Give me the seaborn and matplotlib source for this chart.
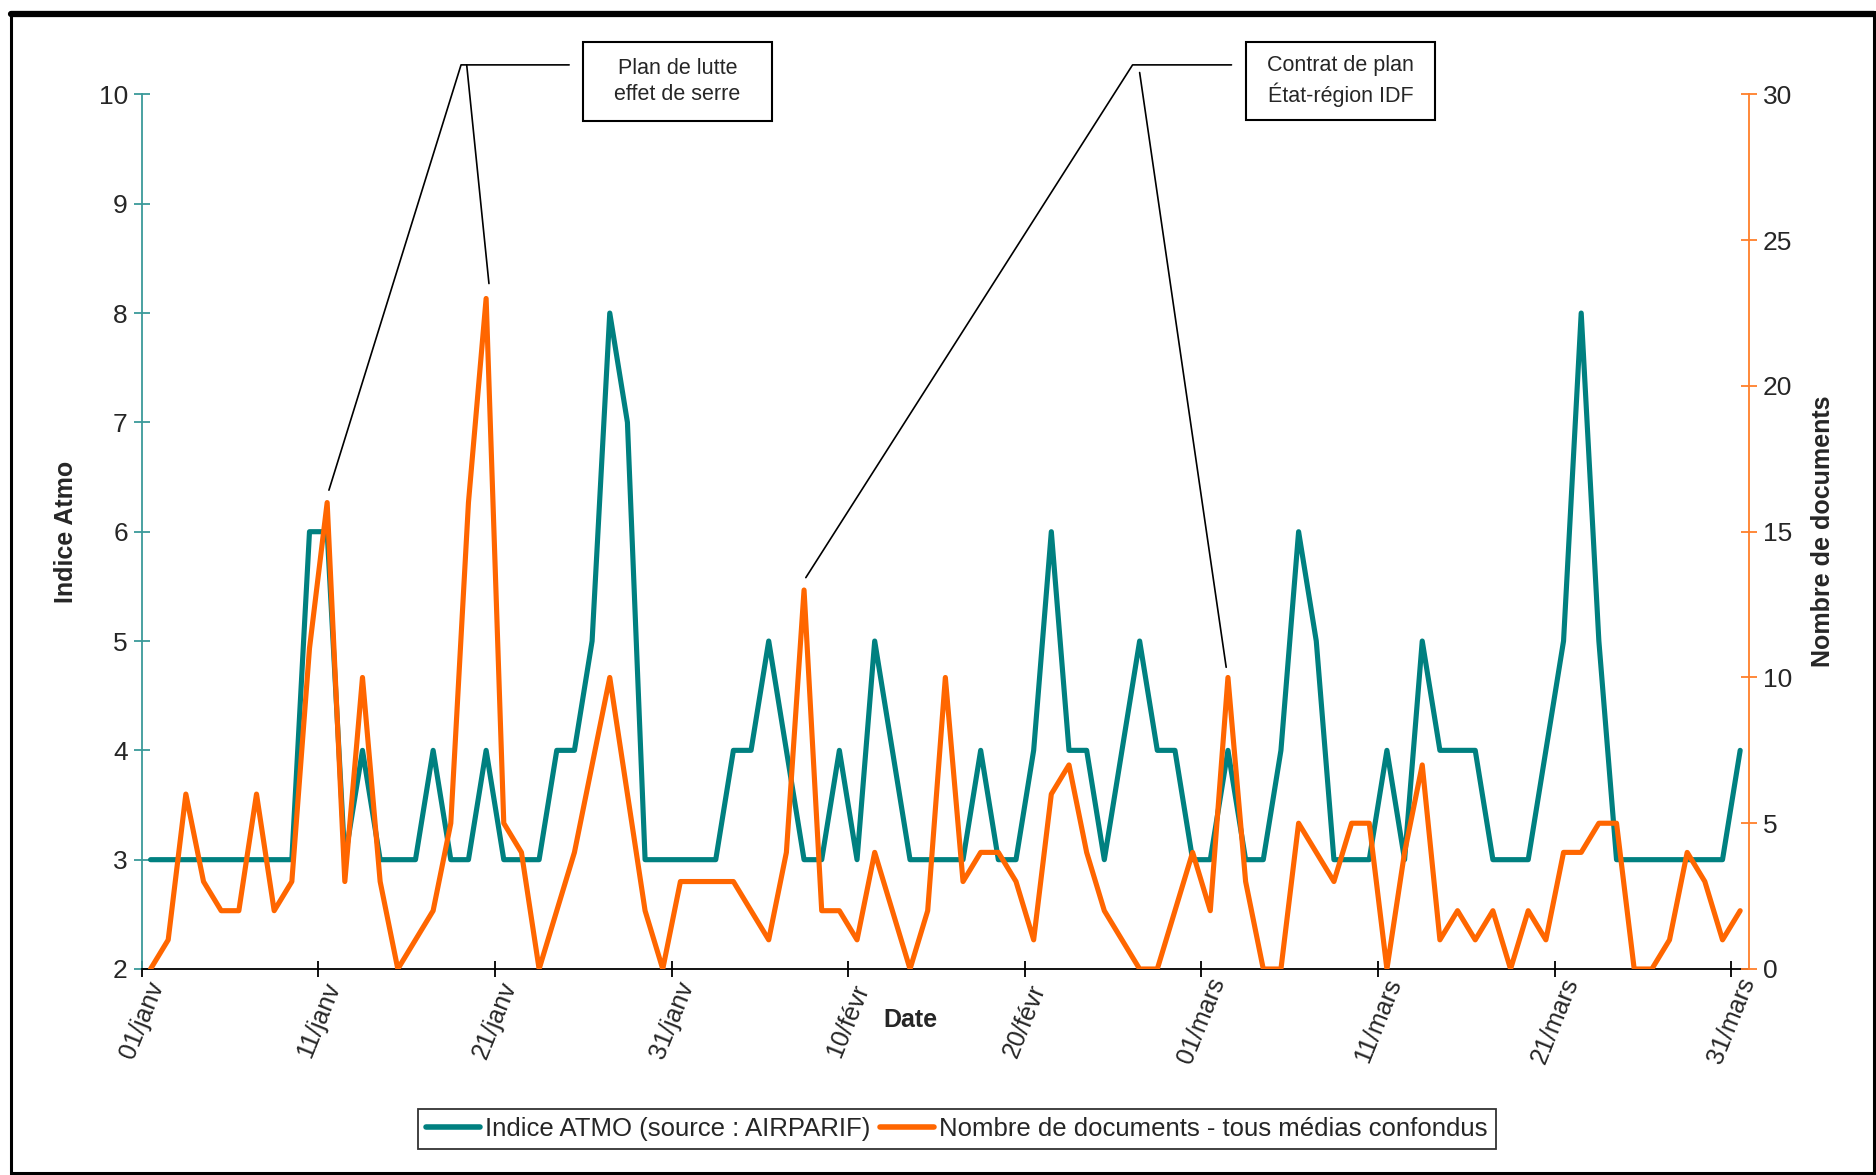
import numpy as np
import pandas as pd
import matplotlib
matplotlib.use("Agg")
import matplotlib.pyplot as plt
from matplotlib.patches import Rectangle
from matplotlib.lines import Line2D
import seaborn as sns

# daily values 01/janv -> 31/mars (91 days)
atmo = [3, 3, 3, 3, 3, 3, 3, 3, 3, 6,
        6, 3, 4, 3, 3, 3, 4, 3, 3, 4,
        3, 3, 3, 4, 4, 5, 8, 7, 3, 3,
        3, 3, 3, 4, 4, 5, 4, 3, 3, 4,
        3, 5, 4, 3, 3, 3, 3, 4, 3, 3,
        4, 6, 4, 4, 3, 4, 5, 4, 4, 3,
        3, 4, 3, 3, 4, 6, 5, 3, 3, 3,
        4, 3, 5, 4, 4, 4, 3, 3, 3, 4,
        5, 8, 5, 3, 3, 3, 3, 3, 3, 3,
        4]
docs = [0, 1, 6, 3, 2, 2, 6, 2, 3, 11,
        16, 3, 10, 3, 0, 1, 2, 5, 16, 23,
        5, 4, 0, 2, 4, 7, 10, 6, 2, 0,
        3, 3, 3, 3, 2, 1, 4, 13, 2, 2,
        1, 4, 2, 0, 2, 10, 3, 4, 4, 3,
        1, 6, 7, 4, 2, 1, 0, 0, 2, 4,
        2, 10, 3, 0, 0, 5, 4, 3, 5, 5,
        0, 4, 7, 1, 2, 1, 2, 0, 2, 1,
        4, 4, 5, 5, 0, 0, 1, 4, 3, 1,
        2]
date_labels = ["01/janv", "11/janv", "21/janv", "31/janv", "10/févr",
               "20/févr", "01/mars", "11/mars", "21/mars", "31/mars"]
atmo_label = "Indice ATMO (source : AIRPARIF)"
docs_label = "Nombre de documents - tous médias confondus"

TEAL = "#008080"
ORANGE = "#FF6600"

sns.set_theme(style="white")
plt.rcParams['font.family'] = ['Liberation Sans', 'DejaVu Sans']

df = pd.DataFrame({"day": np.arange(len(atmo)), "atmo": atmo, "docs": docs})

fig = plt.figure(figsize=(18.76, 11.75), dpi=100)
ax = fig.add_axes([141.7 / 1876, 1 - 969 / 1175, (1749 - 141.7) / 1876, (969 - 94.4) / 1175])
ax2 = ax.twinx()

sns.lineplot(data=df, x="day", y="atmo", ax=ax, color=TEAL, linewidth=3.7, label=atmo_label, legend=False)
sns.lineplot(data=df, x="day", y="docs", ax=ax2, color=ORANGE, linewidth=3.7, label=docs_label, legend=False)

ax.set_xlim(-0.5, 90.5)
ax.set_ylim(2, 10)
ax2.set_ylim(0, 30)
ax.set_yticks(range(2, 11))
ax2.set_yticks(range(0, 31, 5))
ax.set_xticks(np.arange(len(date_labels)) * 10 - 0.5)
ax.set_xticklabels(date_labels, rotation=68, ha="center", va="center", rotation_mode="anchor", fontsize=18)

for a in (ax, ax2):
    a.grid(False)
    a.spines["top"].set_visible(False)
    a.set_facecolor("none")
ax.spines["right"].set_visible(False)
ax.spines["left"].set_color("#3A9A9A")
ax.spines["left"].set_linewidth(1.3)
ax.spines["bottom"].set_color("black")
ax.spines["bottom"].set_linewidth(1.3)
ax2.spines["left"].set_visible(False)
ax2.spines["bottom"].set_visible(False)
ax2.spines["right"].set_color("#FF7F2A")
ax2.spines["right"].set_linewidth(1.3)

ax.tick_params(axis="y", direction="inout", length=12, width=1.3, color="#3A9A9A", labelsize=19, pad=4, left=True)
ax.tick_params(axis="x", direction="inout", length=12, width=1.3, color="black", pad=31, bottom=True)
ax2.tick_params(axis="y", direction="inout", length=12, width=1.3, color="#FF7F2A", labelsize=19, pad=4, right=True)

ax.set_xlabel("Date", fontsize=18, fontweight="bold")
ax.xaxis.set_label_coords(0.478, -0.058)
ax.xaxis.label.set_va("center")
ax.set_ylabel("Indice Atmo", fontsize=18, fontweight="bold")
ax.yaxis.set_label_coords(-0.047, 0.5)
ax2.set_ylabel("Nombre de documents", fontsize=18, fontweight="bold", rotation=90)
ax2.yaxis.set_label_coords(1.046, 0.5)
ax2.yaxis.label.set_va("center")
ax.yaxis.label.set_va("center")

# callout lines (left-axis data coordinates)
callouts = [
    [(10.1, 6.38), (17.58, 10.27), (23.7, 10.27)],
    [(17.9, 10.27), (19.16, 8.27)],
    [(37.1, 5.58), (55.6, 10.27), (61.2, 10.27)],
    [(56.0, 10.2), (60.9, 4.76)],
]
for pts in callouts:
    xs, ys = zip(*pts)
    ax.add_line(Line2D(xs, ys, color="black", linewidth=1.2, clip_on=False, zorder=5))

# annotation boxes (pixels of the 1876x1175 figure)
boxes = [((583, 42, 772, 121), "Plan de lutte\neffet de serre"),
         ((1246, 42, 1435, 120), "Contrat de plan\nÉtat-région IDF")]
for (x0, y0, x1, y1), txt in boxes:
    fig.patches.append(Rectangle((x0 / 1876, 1 - y1 / 1175), (x1 - x0) / 1876, (y1 - y0) / 1175,
                                 transform=fig.transFigure, fill=False, edgecolor="black", linewidth=1.5))
    fig.text((x0 + x1) / 2 / 1876, 1 - (y0 + y1) / 2 / 1175, txt, ha="center", va="center",
             fontsize=15.5, linespacing=1.3)

# legend
h1 = Line2D([], [], color=TEAL, linewidth=4)
h2 = Line2D([], [], color=ORANGE, linewidth=4)
leg = fig.legend([h1, h2], [atmo_label, docs_label], loc="center", bbox_to_anchor=(0.51, 0.039),
                 ncol=2, fontsize=18.5, frameon=True, fancybox=False, edgecolor="black",
                 handlelength=2.1, handletextpad=0.2, columnspacing=0.4, borderpad=0.3,
                 borderaxespad=0)
leg.get_frame().set_linewidth(1.3)

# outer frame
fig.patches.append(Rectangle((11 / 1876, 2 / 1175), 1863 / 1876, 1161 / 1175, transform=fig.transFigure,
                             fill=False, edgecolor="black", linewidth=2.2))
fig.add_artist(Line2D([11 / 1876, 1874 / 1876], [1 - 14 / 1175, 1 - 14 / 1175], color="black",
                      linewidth=4.5, transform=fig.transFigure))

fig.savefig("out.png", dpi=100, facecolor="white")
